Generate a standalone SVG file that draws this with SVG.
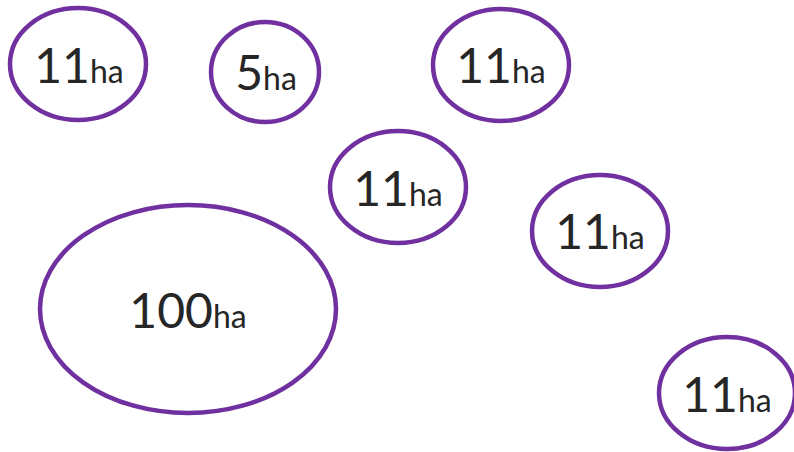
<svg xmlns="http://www.w3.org/2000/svg" width="794" height="452" viewBox="0 0 794 452">
<style>
.b{fill:#fff;stroke:#7030A0;stroke-width:4.5}
.t{font-family:Lato,"Open Sans","Liberation Sans",sans-serif;font-size:48px;fill:#262626;text-anchor:middle}
.s{font-size:32px}
</style>
<rect width="794" height="452" fill="#fff"/>
<g id="connectors"/>
<g id="n1"><ellipse class="b" cx="78" cy="64" rx="68" ry="56"/><text class="t" x="79" y="83">11<tspan class="s">ha</tspan></text></g>
<g id="n2"><ellipse class="b" cx="265" cy="72" rx="54" ry="50"/><text class="t" x="266" y="90">5<tspan class="s">ha</tspan></text></g>
<g id="n3"><ellipse class="b" cx="501" cy="65" rx="68" ry="56"/><text class="t" x="501" y="83">11<tspan class="s">ha</tspan></text></g>
<g id="n4"><ellipse class="b" cx="398" cy="187" rx="68" ry="56"/><text class="t" x="398" y="206">11<tspan class="s">ha</tspan></text></g>
<g id="n5"><ellipse class="b" cx="600" cy="231" rx="68" ry="56"/><text class="t" x="600" y="249">11<tspan class="s">ha</tspan></text></g>
<g id="n6"><ellipse class="b" cx="188" cy="309" rx="148" ry="104"/><text class="t" x="188" y="328">100<tspan class="s">ha</tspan></text></g>
<g id="n7"><ellipse class="b" cx="727" cy="393" rx="68" ry="56"/><text class="t" x="727" y="412">11<tspan class="s">ha</tspan></text></g>
</svg>
